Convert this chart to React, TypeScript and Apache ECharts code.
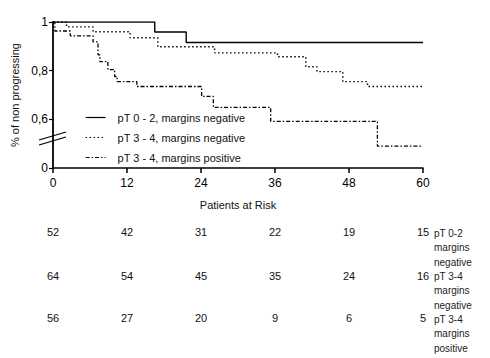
import React, { useEffect, useRef } from "react";
import * as echarts from "echarts";

// Kaplan–Meier step data (months, proportion non progressing)
const monthsA = [0, 16.5, 21.6, 60];
const survA = [1, 0.959, 0.916, 0.916];

const monthsB = [0, 2.2, 6.5, 12.5, 17, 26.2, 36.4, 41, 42.8, 47, 51, 60];
const survB = [1, 0.98, 0.96, 0.935, 0.898, 0.873, 0.857, 0.816, 0.796, 0.755, 0.735, 0.735];

const monthsC = [0, 0.3, 2.8, 6.5, 7.3, 7.6, 8.9, 10, 10.4, 13.6, 24.1, 26, 35.3, 52.6, 60];
const survC = [1, 0.963, 0.943, 0.918, 0.865, 0.837, 0.804, 0.776, 0.755, 0.735, 0.694, 0.649, 0.592, 0.49, 0.49];

const seriesNames = [
  "pT 0 - 2, margins negative",
  "pT 3 - 4, margins negative",
  "pT 3 - 4, margins positive",
];

// Patients at risk table
const riskMonths = [0, 12, 24, 36, 48, 60];
const riskA = [52, 42, 31, 22, 19, 15];
const riskB = [64, 54, 45, 35, 24, 16];
const riskC = [56, 27, 20, 9, 6, 5];
const riskRowLabels = [
  "pT 0-2\nmargins\nnegative",
  "pT 3-4\nmargins\nnegative",
  "pT 3-4\nmargins\npositive",
];

// Y-axis tick labels (broken axis: bottom tick stands for 0)
const yTickValues = [0.4, 0.6, 0.8, 1];
const yTickLabels = ["0", "0,6", "0,8", "1"];

const FONT = "'Liberation Sans', Arial, Helvetica, sans-serif";

function zip(xs: number[], ys: number[]) {
  return xs.map((x, i) => [x, ys[i]]);
}

export default function App() {
  const ref = useRef<HTMLDivElement>(null);

  useEffect(() => {
    if (!ref.current) return;
    const chart = echarts.init(ref.current, undefined, { renderer: "svg" });

    const riskAxis = (vals: number[], offset: number) => ({
      type: "value",
      min: 0,
      max: 60,
      interval: 12,
      position: "bottom",
      offset,
      axisLine: { show: false },
      axisTick: { show: false },
      splitLine: { show: false },
      axisLabel: {
        fontSize: 11,
        fontFamily: FONT,
        color: "#111",
        margin: 8,
        formatter: (v: number) => {
          const i = riskMonths.indexOf(v);
          return i >= 0 ? String(vals[i]) : "";
        },
      },
    });

    chart.setOption({
      animation: false,
      backgroundColor: "#fff",
      textStyle: { fontFamily: FONT },
      grid: { left: 53, right: 67, top: 22, bottom: 190 },
      legend: {
        orient: "vertical",
        left: 80,
        top: 107,
        itemWidth: 20,
        itemHeight: 10,
        itemGap: 9,
        data: seriesNames,
        itemStyle: { opacity: 0 },
        lineStyle: { width: 1.2 },
        textStyle: { fontSize: 11, color: "#111", fontFamily: FONT, padding: [0, 0, 0, 7] },
      },
      xAxis: [
        {
          type: "value",
          min: 0,
          max: 60,
          interval: 12,
          name: "Patients at Risk",
          nameLocation: "middle",
          nameGap: 31,
          nameTextStyle: { fontSize: 11, color: "#111", fontFamily: FONT },
          axisLine: { show: true, onZero: false, lineStyle: { color: "#000", width: 1.5 } },
          axisTick: { show: true, length: 5, lineStyle: { color: "#000", width: 1.5 } },
          splitLine: { show: false },
          axisLabel: { fontSize: 12, color: "#000", margin: 9, fontFamily: FONT },
        },
        riskAxis(riskA, 50),
        riskAxis(riskB, 94),
        riskAxis(riskC, 136),
      ],
      yAxis: {
        type: "value",
        min: 0.4,
        max: 1,
        interval: 0.2,
        name: "% of non progressing",
        nameLocation: "middle",
        nameGap: 26,
        nameTextStyle: { fontSize: 11, color: "#111", fontFamily: FONT },
        axisLine: { show: true, lineStyle: { color: "#000", width: 1.8 } },
        axisTick: { show: true, length: 4, lineStyle: { color: "#000", width: 1.2 } },
        splitLine: { show: false },
        axisLabel: {
          fontSize: 12,
          color: "#000",
          margin: 5,
          fontFamily: FONT,
          formatter: (v: number) => {
            const i = yTickValues.findIndex((t) => Math.abs(t - v) < 1e-6);
            return i >= 0 ? yTickLabels[i] : "";
          },
        },
      },
      series: [
        {
          name: seriesNames[0],
          type: "line",
          step: "end",
          symbol: "none",
          data: zip(monthsA, survA),
          lineStyle: { color: "#000", width: 1.4, type: "solid" },
          itemStyle: { color: "#000" },
        },
        {
          name: seriesNames[1],
          type: "line",
          step: "end",
          symbol: "none",
          data: zip(monthsB, survB),
          lineStyle: { color: "#000", width: 1.4, type: [1.5, 2.5] },
          itemStyle: { color: "#000" },
        },
        {
          name: seriesNames[2],
          type: "line",
          step: "end",
          symbol: "none",
          data: zip(monthsC, survC),
          lineStyle: { color: "#000", width: 1.3, type: [4, 2, 1.5, 2] },
          itemStyle: { color: "#000" },
        },
      ],
      graphic: [
        // axis break marks
        {
          type: "line",
          shape: { x1: 39, y1: 140, x2: 66, y2: 132 },
          style: { stroke: "#000", lineWidth: 1.2 },
        },
        {
          type: "line",
          shape: { x1: 39, y1: 145, x2: 66, y2: 137 },
          style: { stroke: "#000", lineWidth: 1.2 },
        },
        ...riskRowLabels.map((t, i) => ({
          type: "text",
          left: 434,
          top: 226 + i * 43,
          style: {
            text: t,
            fontSize: 10,
            lineHeight: 14.5,
            fill: "#222",
            fontFamily: FONT,
          },
        })),
      ],
    });

    return () => chart.dispose();
  }, []);

  return (
    <div
      ref={ref}
      style={{ position: "fixed", left: 0, top: 0, width: 490, height: 358 }}
    />
  );
}
